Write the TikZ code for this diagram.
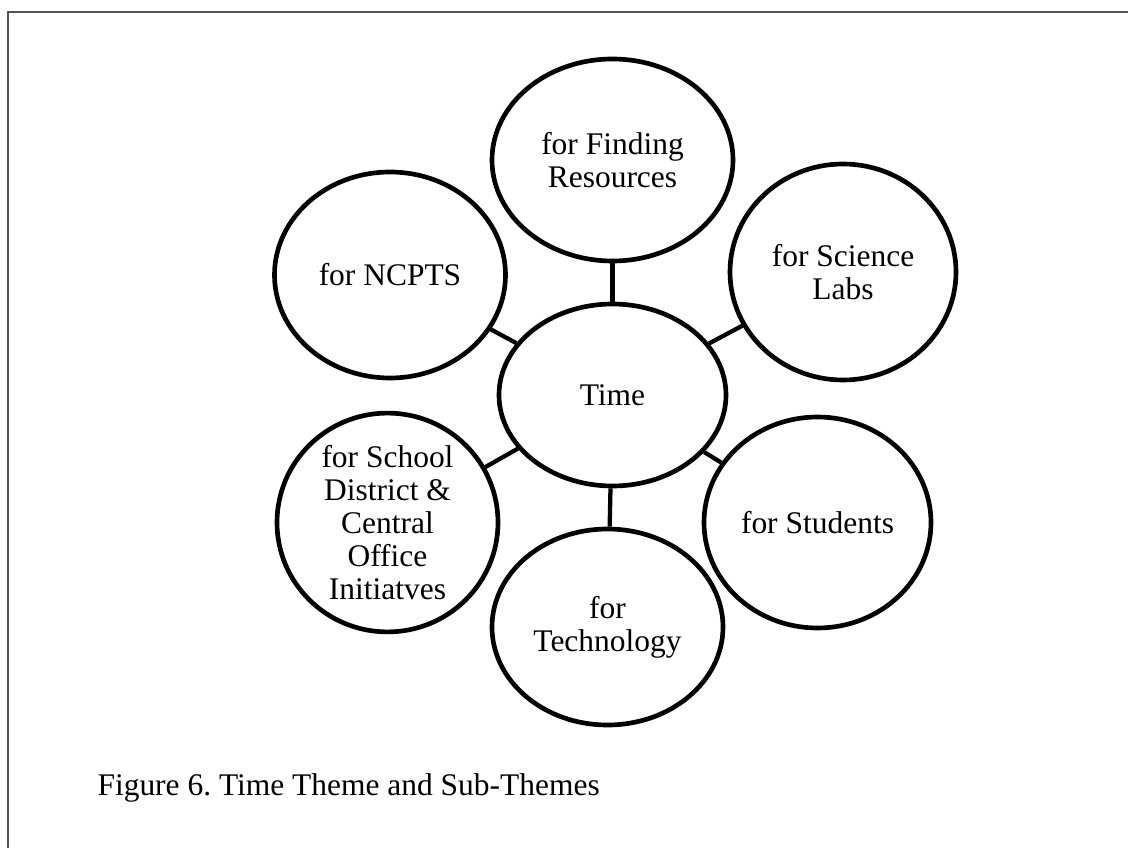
\documentclass[tikz,border=0pt]{standalone}
\usepackage{fontspec}
\setmainfont{Liberation Serif}
\usetikzlibrary{shapes.geometric}
\definecolor{framegray}{RGB}{85,85,85}
\frenchspacing
\begin{document}
\begin{tikzpicture}[x=0.375pt,y=-0.375pt,
  ell/.style 2 args={ellipse, draw=black, line width=1.75pt, fill=white, inner sep=0pt,
    minimum width=#1*0.375pt, minimum height=#2*0.375pt, align=center,
    font=\fontsize{11.8}{12.4}\selectfont},
  link/.style={draw=black, line width=1.6pt},
  framel/.style={draw=framegray, line width=0.8pt}]
\useasboundingbox (0,0) rectangle (1128,848);
\coordinate (fTL) at (8,12);
\coordinate (fTR) at (1128,12);
\coordinate (fBL) at (8,848);
\draw[framel] (fBL) -- (fTL) -- (fTR);

\node[ell={227}{182}] (time) at (612.5,395) {Time};
\node[ell={241}{202}] (find) at (612.5,160) {for Finding\\Resources};
\node[ell={231}{206}] (ncpts) at (390,275) {for NCPTS};
\node[ell={226}{216}] (sci) at (843,272) {for Science\\Labs};
\node[ell={227}{211}] (stud) at (817.5,522.5) {for Students};
\node[ell={221}{207}] (dist) at (387.5,522.5) {for School\\District \&\\Central\\Office\\Initiatves};
\node[ell={231}{196}] (tech) at (607.5,627) {for\\Technology};

\draw[link] (time) -- (find);
\draw[link] (time) -- (ncpts);
\draw[link] (time) -- (sci);
\draw[link] (time) -- (stud);
\draw[link] (time) -- (dist);
\draw[link] (time) -- (tech);

\node[anchor=base west, inner sep=0pt, font=\fontsize{11.8}{12.4}\selectfont] (cap) at (97,795) {Figure 6. Time Theme and Sub-Themes};
\end{tikzpicture}
\end{document}
